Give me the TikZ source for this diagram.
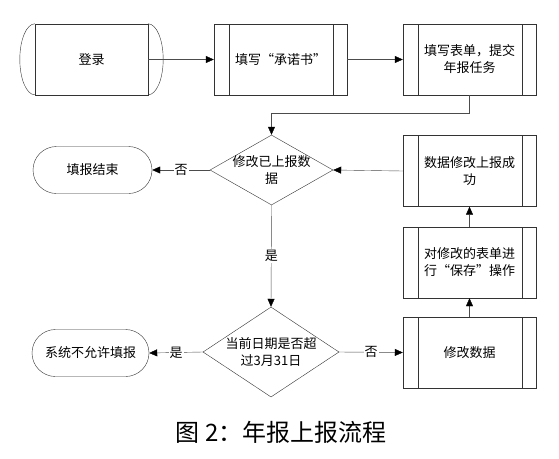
\documentclass[tikz,border=0pt]{standalone}
\usepackage{fontspec}
\setmainfont{Noto Sans CJK SC}
\usetikzlibrary{shapes.geometric,arrows.meta}
\tikzset{
  txt/.style={font=\fontsize{13pt}{17pt}\selectfont, align=center},
  proc/.style={txt, draw=black!80, minimum width=133pt, minimum height=71pt, inner sep=0pt,
    path picture={
      \draw[black!80] ([xshift=15pt]path picture bounding box.north west) -- ([xshift=15pt]path picture bounding box.south west);
      \draw[black!80] ([xshift=-14pt]path picture bounding box.north east) -- ([xshift=-14pt]path picture bounding box.south east);
    }},
  term/.style={txt, draw=black!80, rounded corners=23.5pt, minimum height=47pt, inner sep=0pt},
  decide/.style={diamond, draw=black!80, inner sep=0pt},
  arr/.style={draw=black!70, -{Triangle[length=8pt,width=7pt,color=black]}},
  lbl/.style={txt, text=black, fill=white, inner sep=1pt}
}
\begin{document}
\begin{tikzpicture}[x=1pt,y=-1pt]
  \useasboundingbox (0,0) rectangle (559,458);
  % top row
  \node[txt, draw=black!80, minimum width=113pt, minimum height=71pt, inner sep=0pt] (login) at (91.5,59.5) {登录};
  \draw[black!80] (login.north west) arc[start angle=90, end angle=270, x radius=15pt, y radius=35.5pt];
  \draw[black!80] (login.north east) arc[start angle=90, end angle=-90, x radius=15pt, y radius=35.5pt];
  \node[proc] (promise) at (280.5,59.5) {填写“承诺书”};
  \node[proc] (submit) at (469.5,59.5) {填写表单，提交\\年报任务};
  % decisions
  \node[decide, minimum width=123pt, minimum height=70pt,
    label={[txt]center:修改已上报数\\据}] (changed) at (271.5,170) {};
  \node[decide, minimum width=136pt, minimum height=90pt,
    label={[txt]center:当前日期是否超\\过3月31日}] (deadline) at (271,352) {};
  % ends
  \node[term, minimum width=119pt] (finish) at (92.5,170) {填报结束};
  \node[term, minimum width=117pt] (refuse) at (90.5,353) {系统不允许填报};
  % right column
  \node[proc] (success) at (469.5,171) {数据修改上报成\\功};
  \node[proc] (save) at (469.5,262.5) {对修改的表单进\\行“保存”操作};
  \node[proc] (modify) at (469.5,352.5) {修改数据};
  % caption
  \node[font=\fontsize{24pt}{28pt}\selectfont] (caption) at (281,432) {图 2：年报上报流程};

  \draw[arr] (login) -- (promise);
  \draw[arr] (promise) -- (submit);
  \draw[arr] (submit.south) -- ++(0,18) -| (changed.north);
  \draw[arr] (changed.west) -- node[lbl] {否} (finish.east);
  \draw[arr] (changed.south) -- node[lbl] {是} (deadline.north);
  \draw[arr] (deadline.west) -- node[lbl] {是} (refuse.east);
  \draw[arr] (deadline.east) -- node[lbl] {否} (modify.west);
  \draw[arr] (modify) -- (save);
  \draw[arr] (save) -- (success);
  \draw[arr] (success.west) -- (changed.east);
\end{tikzpicture}
\end{document}
